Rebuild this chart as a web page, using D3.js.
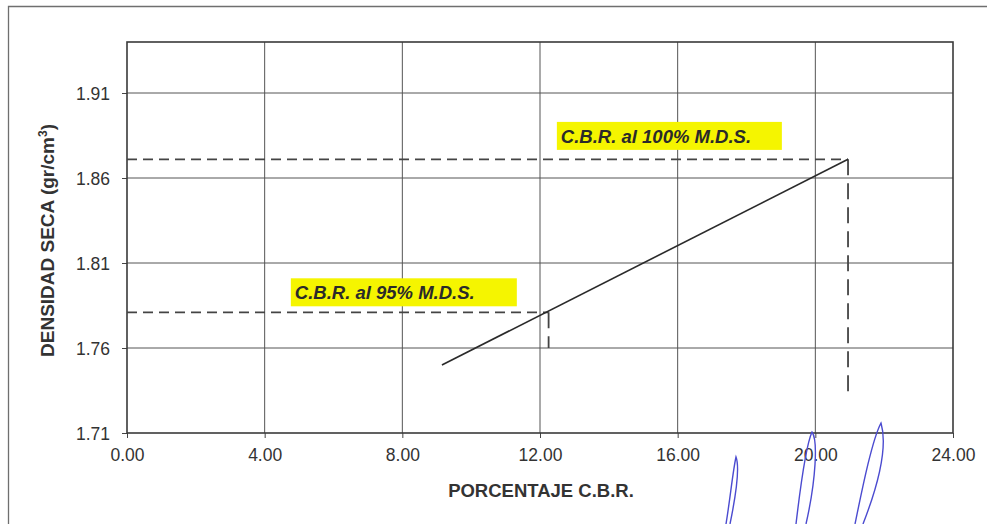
<!DOCTYPE html>
<html>
<head>
<meta charset="utf-8">
<script src="https://cdn.jsdelivr.net/npm/d3@7"></script>
<style>
  html, body { margin: 0; padding: 0; background: #fff; }
  svg { display: block; font-family: "Liberation Sans", Arial, sans-serif; }
</style>
</head>
<body>
<svg id="chart" width="987" height="524"></svg>
<script>
// CBR vs dry density
const xTicks = [0, 4, 8, 12, 16, 20, 24];
const yTicks = [1.71, 1.76, 1.81, 1.86, 1.91];
const xDomain = [0, 24];
const yDomain = [1.71, 1.94];

// CBR line (percentage, dry density)
const cbrX = [9.15, 20.95];
const cbrY = [1.750, 1.871];

// reference points: 95% and 100% of max dry density
const refNames = ["C.B.R. al 95% M.D.S.", "C.B.R. al 100% M.D.S."];
const refX = [12.25, 20.95];
const refY = [1.781, 1.871];
const refDropTo = [1.760, 1.731];
// label box anchors (left, top) in data units
const labelX = [4.76, 12.49];
const labelY = [1.801, 1.893];

const svg = d3.select("#chart");
const margin = { left: 127, right: 34, top: 42, bottom: 91 };
const W = 987, H = 524;

const x = d3.scaleLinear().domain(xDomain).range([margin.left, W - margin.right]);
const y = d3.scaleLinear().domain(yDomain).range([H - margin.bottom, margin.top]);

// page frame
svg.append("path")
  .attr("d", `M8.5,${H} L8.5,6.5 L${W},6.5`)
  .attr("fill", "none").attr("stroke", "#6f6f6f").attr("stroke-width", 1.3);

// grid
const grid = svg.append("g").attr("stroke", "#555").attr("stroke-width", 1);
grid.selectAll(".gx").data(xTicks.slice(1, -1)).join("line")
  .attr("x1", d => x(d)).attr("x2", d => x(d))
  .attr("y1", y.range()[1]).attr("y2", y.range()[0]);
grid.selectAll(".gy").data(yTicks.slice(1)).join("line")
  .attr("x1", x.range()[0]).attr("x2", x.range()[1])
  .attr("y1", d => y(d)).attr("y2", d => y(d));

// axes
const xAxis = d3.axisBottom(x).tickValues(xTicks).tickFormat(d3.format(".2f"))
  .tickSizeInner(5).tickSizeOuter(0).tickPadding(11);
const yAxis = d3.axisLeft(y).tickValues(yTicks).tickFormat(d3.format(".2f"))
  .tickSizeInner(5).tickSizeOuter(0).tickPadding(12);

const gx = svg.append("g").attr("transform", `translate(0,${y(yDomain[0])})`).call(xAxis);
const gy = svg.append("g").attr("transform", `translate(${x(xDomain[0])},0)`).call(yAxis);
[gx, gy].forEach(g => {
  g.attr("font-size", null).attr("font-family", null);
  g.select(".domain").remove();
  g.selectAll(".tick line").attr("stroke", "#444");
  g.selectAll(".tick text").attr("fill", "#333").style("font-size", "17.5px")
    .style("font-family", "'Liberation Sans', Arial, sans-serif");
});
gy.selectAll(".tick text").attr("dy", "0.35em");

// plot frame
svg.append("rect")
  .attr("x", x.range()[0]).attr("y", y.range()[1])
  .attr("width", x.range()[1] - x.range()[0])
  .attr("height", y.range()[0] - y.range()[1])
  .attr("fill", "none").attr("stroke", "#3a3a3a").attr("stroke-width", 1.6);

// axis titles
svg.append("text")
  .attr("x", 541).attr("y", 497)
  .attr("text-anchor", "middle").attr("fill", "#333")
  .style("font-size", "18.5px").style("font-weight", "bold")
  .text("PORCENTAJE C.B.R.");

const yt = svg.append("text")
  .attr("transform", `translate(54,${(y.range()[0] + y.range()[1]) / 2 + 3}) rotate(-90)`)
  .attr("text-anchor", "middle").attr("fill", "#333")
  .style("font-size", "19px").style("font-weight", "bold");
yt.append("tspan").text("DENSIDAD SECA (gr/cm");
yt.append("tspan").attr("dy", "-7").style("font-size", "12px").text("3");
yt.append("tspan").attr("dy", "7").text(")");

// dashed reference lines
const refs = refNames.map((n, i) => ({ name: n, x: refX[i], y: refY[i], drop: refDropTo[i], lx: labelX[i], ly: labelY[i] }));
svg.selectAll(".refh").data(refs).join("line")
  .attr("x1", x(xDomain[0])).attr("x2", d => x(d.x))
  .attr("y1", d => y(d.y)).attr("y2", d => y(d.y))
  .attr("stroke", "#444").attr("stroke-width", 1.8).attr("stroke-dasharray", "10,6");
svg.selectAll(".refv").data(refs).join("line")
  .attr("x1", d => x(d.x)).attr("x2", d => x(d.x))
  .attr("y1", d => y(d.y)).attr("y2", d => y(d.drop))
  .attr("stroke", "#444").attr("stroke-width", 1.8).attr("stroke-dasharray", "16,8");

// CBR line
const line = d3.line().x(d => x(d[0])).y(d => y(d[1]));
svg.append("path")
  .datum(cbrX.map((v, i) => [v, cbrY[i]]))
  .attr("d", line)
  .attr("fill", "none").attr("stroke", "#2a2a2a").attr("stroke-width", 1.6);

// labels on yellow boxes
const lab = svg.selectAll(".lab").data(refs).join("g")
  .attr("transform", d => `translate(${x(d.lx)},${y(d.ly)})`);
lab.append("rect").attr("width", (d, i) => i === 0 ? 226 : 225).attr("height", 28)
  .attr("fill", "#f5f500");
lab.append("text").attr("x", 4).attr("y", 21)
  .attr("fill", "#2a2a2a")
  .style("font-size", "18.5px").style("font-weight", "bold").style("font-style", "italic")
  .text(d => d.name);

// ink signature strokes
const sig = svg.append("g").attr("fill", "none").attr("stroke", "#4b4bd0").attr("stroke-width", 1.4);
sig.append("path").attr("d", "M726,524 C730,500 733,470 736,457 C739,465 737,490 730,524");
sig.append("path").attr("d", "M796,524 C800,490 806,445 812,432 C818,440 816,480 806,524");
sig.append("path").attr("d", "M855,524 C862,490 872,440 881,423 C886,440 884,470 863,524");
</script>
</body>
</html>
